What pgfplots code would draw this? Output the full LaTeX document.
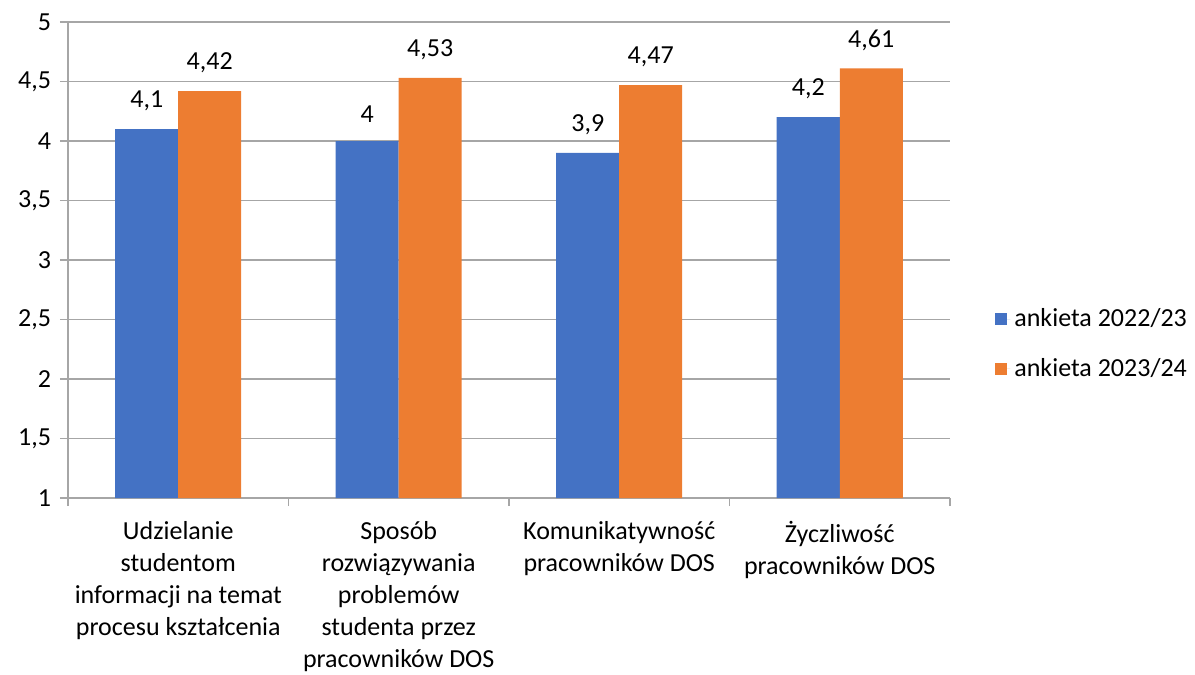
\documentclass[border=0pt]{standalone}
\usepackage{fontspec}
\setmainfont{Carlito}
\usepackage{pgfplots}
\pgfplotsset{compat=1.18}
\definecolor{cblue}{HTML}{4472C4}
\definecolor{corange}{HTML}{ED7D31}
\definecolor{gridc}{HTML}{A6A6A6}
\newcommand{\cf}{\fontsize{13}{16}\selectfont}
\begin{document}
\cf
\begin{tikzpicture}
\path[use as bounding box] (-34pt,-88.5pt) rectangle (563.5pt,249pt);
\begin{axis}[
  at={(0,0)}, anchor=south west,
  scale only axis, width=441pt, height=238pt,
  ymin=1, ymax=5, ytick={1,1.5,...,5},
  xmin=-0.5, xmax=3.5,
  ybar=0pt, bar width=31.5pt,
  axis lines*=left,
  axis line style={gridc, line width=0.75pt},
  ymajorgrids, grid style={gridc, line width=0.75pt},
  tick align=outside, major tick length=4pt,
  tick style={gridc, line width=0.75pt},
  xtick={-0.5,0.5,1.5,2.5,3.5}, xticklabels={},
  extra x ticks={0,1,2,3},
  extra x tick labels={Udzielanie\\studentom\\informacji na temat\\procesu kształcenia,
    Sposób\\rozwiązywania\\problemów\\studenta przez\\pracowników DOS,
    Komunikatywność\\pracowników DOS,
    Życzliwość\\pracowników DOS},
  extra x tick style={major tick length=0pt, grid=none, tick style={draw=none}},
  xticklabel style={align=center, font=\cf, yshift=-7pt},
  yticklabel style={/pgf/number format/use comma, /pgf/number format/assume math mode=true, font=\cf},
  nodes near coords,
  every node near coord/.append style={/pgf/number format/use comma, /pgf/number format/assume math mode=true, font=\cf, text=black, yshift=4.5pt},
  legend style={draw=none, at={(1.051,0.3235)}, anchor=west, font=\cf, row sep=10pt, inner sep=0pt},
  legend cell align=left,
  legend image code/.code={\fill[#1] (0pt,-3pt) rectangle (6pt,3pt); \path (0pt,0pt) -- (7.5pt,0pt);},
]
\addplot[fill=cblue, draw=none, bar shift=-15.75pt] coordinates {(0,4.1) (1,4) (2,3.9) (3,4.2)};
\addplot[fill=corange, draw=none, bar shift=15.75pt] coordinates {(0,4.42) (1,4.53) (2,4.47) (3,4.61)};
\legend{ankieta 2022/23, ankieta 2023/24}
\end{axis}
\end{tikzpicture}
\end{document}
